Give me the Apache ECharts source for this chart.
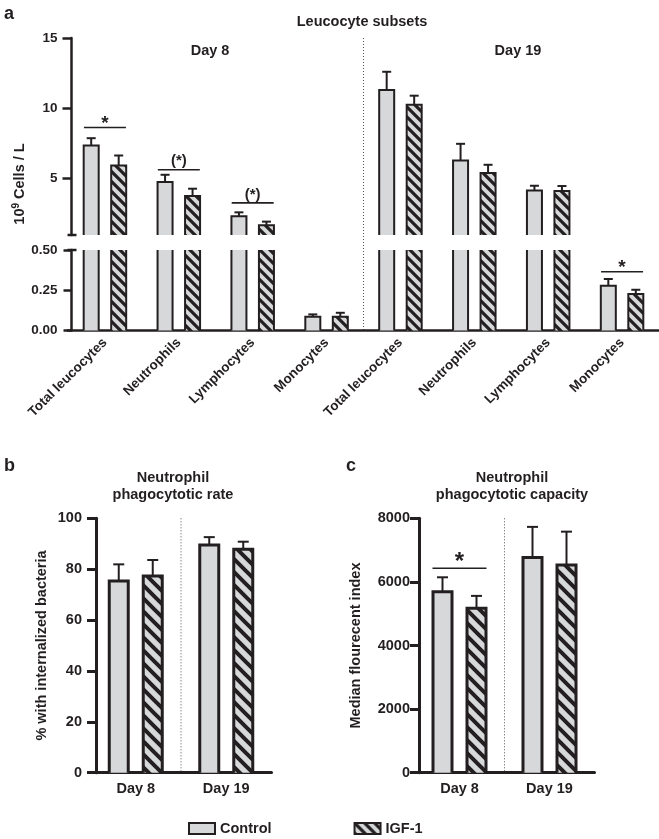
<!DOCTYPE html>
<html><head><meta charset="utf-8">
<script src="https://cdn.jsdelivr.net/npm/echarts@6/dist/echarts.min.js"></script>
<style>html,body{margin:0;padding:0;background:#fff}#c{width:659px;height:839px}</style>
</head><body><div id="c"></div>
<script>
// ---------- data ----------
const subsets = ['Total leucocytes', 'Neutrophils', 'Lymphocytes', 'Monocytes'];
const daysA = ['Day 8', 'Day 19'];
const controlA    = [7.36, 4.77, 2.33, 0.085, 11.31, 6.30, 4.17, 0.278];
const controlASem = [0.52, 0.51, 0.28, 0.015, 1.29, 1.18, 0.33, 0.042];
const igfA        = [5.94, 3.77, 1.69, 0.085, 10.25, 5.40, 4.13, 0.227];
const igfASem     = [0.71, 0.52, 0.26, 0.025, 0.65, 0.59, 0.35, 0.026];
const sigACats    = [0, 1, 2, 7];
const sigAY       = [8.64, 5.64, 3.28, 0.365];
const sigALabels  = ['*', '(*)', '(*)', '*'];
const yTicksAUpper = [5, 10, 15];
const yTicksALower = [0, 0.25, 0.5];

const daysB = ['Day 8', 'Day 19'];
const controlB    = [75.4, 89.5];
const controlBSem = [6.5, 3.1];
const igfB        = [77.3, 87.8];
const igfBSem     = [6.3, 3.0];

const daysC = ['Day 8', 'Day 19'];
const controlC    = [5690, 6770];
const controlCSem = [455, 960];
const igfC        = [5170, 6530];
const igfCSem     = [390, 1050];
const sigCCats    = [0];
const sigCY       = [6430];
const sigCLabels  = ['*'];

// ---------- style ----------
const INK = '#231f20';
const GRAY = '#d7d8da';
const FONT = "'Liberation Sans', Arial, Helvetica, sans-serif";

function stripes(period, lw) {
  const c = document.createElement('canvas');
  c.width = c.height = period;
  const g = c.getContext('2d');
  g.fillStyle = GRAY; g.fillRect(0, 0, period, period);
  g.strokeStyle = INK; g.lineWidth = lw; g.lineCap = 'square';
  for (let k = -1; k <= 1; k++) {
    g.beginPath();
    g.moveTo(k * period - 2, -2);
    g.lineTo(k * period + period + 2, period + 2);
    g.stroke();
  }
  return { image: c, repeat: 'repeat' };
}
const hatchA = stripes(10, 3.2);
const hatchB = stripes(13, 4);

function barItem(offset, outerW, lw, capW, fill, lo, hi) {
  const bw = outerW - lw;
  return function (params, api) {
    const i = api.value(0), v = api.value(1), e = api.value(2);
    if (!(v > lo)) return;
    const over = v > hi;
    const pt = api.coord([i, over ? hi : v]);
    const cx = pt[0] + offset, top = pt[1];
    const base = api.coord([i, lo])[1];
    const x0 = cx - bw / 2, x1 = cx + bw / 2;
    const ch = [{ type: 'rect', shape: { x: x0, y: top, width: bw, height: base - top }, style: { fill: fill } }];
    const st = { stroke: INK, lineWidth: lw, fill: null };
    if (over) {
      ch.push({ type: 'line', shape: { x1: x0, y1: base, x2: x0, y2: top }, style: st });
      ch.push({ type: 'line', shape: { x1: x1, y1: base, x2: x1, y2: top }, style: st });
    } else {
      ch.push({ type: 'polyline', shape: { points: [[x0, base], [x0, top], [x1, top], [x1, base]] }, style: Object.assign({ lineJoin: 'miter' }, st) });
      if (v + e <= hi) {
        const ey = api.coord([i, v + e])[1];
        const es = { stroke: INK, lineWidth: 2 };
        ch.push({ type: 'line', shape: { x1: cx, y1: top, x2: cx, y2: ey }, style: es });
        ch.push({ type: 'line', shape: { x1: cx - capW / 2, y1: ey, x2: cx + capW / 2, y2: ey }, style: es });
      }
    }
    return { type: 'group', children: ch };
  };
}

// half: half length of the bracket line; starFs / starGap: asterisk size and its lift above the line
function sigItem(half, labels, lo, hi, starFs, starGap) {
  return function (params, api) {
    const i = api.value(0), y = api.value(1), li = api.value(2);
    if (y < lo || y > hi) return;
    const p = api.coord([i, y]);
    const lab = labels[li];
    const isStar = lab === '*';
    const fs = isStar ? starFs : 15;
    return { type: 'group', children: [
      { type: 'line', shape: { x1: p[0] - half, y1: p[1], x2: p[0] + half, y2: p[1] }, style: { stroke: INK, lineWidth: 1.6 } },
      { type: 'text', x: p[0], y: isStar ? p[1] - starGap + 0.2 * fs : p[1] - 1,
        style: { text: lab, fill: INK, font: 'bold ' + fs + 'px ' + FONT, align: 'center', verticalAlign: isStar ? 'middle' : 'bottom' } }
    ] };
  };
}

function barSeries(name, x, y, vals, sems, render, fill) {
  return { type: 'custom', name: name, xAxisIndex: x, yAxisIndex: y,
    itemStyle: { color: fill, borderColor: INK, borderWidth: 2 },
    data: vals.map((v, i) => [i, v, sems[i]]), encode: { x: 0, y: 1 }, renderItem: render, z: 3 };
}
function sigSeries(x, y, cats, ys, render) {
  return { type: 'custom', xAxisIndex: x, yAxisIndex: y, silent: true,
    data: cats.map((c, i) => [c, ys[i], i]), encode: { x: 0, y: 1 }, renderItem: render, z: 4 };
}

const catsA = daysA.flatMap(d => subsets.map(s => d + ' ' + s));
const txt = fs => ({ color: INK, fontFamily: FONT, fontWeight: 'bold', fontSize: fs });

function yAx(grid, min, max, offset, tickLen, lw, extra) {
  return Object.assign({
    gridIndex: grid, type: 'value', min: min, max: max, offset: offset,
    splitLine: { show: false },
    axisLine: { show: true, lineStyle: { color: INK, width: lw } },
    axisTick: { show: true, length: tickLen, lineStyle: { color: INK, width: lw } }
  }, extra || {});
}

// layout constants
const GA = { left: 68, width: 591 };
const GA_UP = { top: 38, height: 197 };
const GA_LO = { top: 250, height: 80.5 };
const GB = { left: 90.5, width: 181, top: 518.3, height: 254.4 };
const GC = { left: 414.5, width: 180, top: 518.3, height: 254.4 };

const option = {
  animation: false,
  backgroundColor: '#fff',
  textStyle: { fontFamily: FONT },
  grid: [
    { left: GA.left, width: GA.width, top: GA_UP.top, height: GA_UP.height },
    { left: GA.left, width: GA.width, top: GA_LO.top, height: GA_LO.height },
    { left: GB.left, width: GB.width, top: GB.top, height: GB.height },
    { left: GC.left, width: GC.width, top: GC.top, height: GC.height }
  ],
  xAxis: [
    { gridIndex: 0, type: 'category', data: catsA, show: false },
    { gridIndex: 1, type: 'category', data: catsA,
      axisLine: { lineStyle: { color: INK, width: 2.5 } },
      axisTick: { alignWithLabel: true, length: 6, lineStyle: { color: INK, width: 2.5 } },
      axisLabel: Object.assign(txt(13.5), { rotate: 45, margin: 10, interval: 0, formatter: (v, i) => subsets[i % subsets.length] }) },
    { gridIndex: 2, type: 'category', data: daysB,
      axisLine: { lineStyle: { color: INK, width: 3 } }, axisTick: { show: false },
      axisLabel: Object.assign(txt(14.5), { margin: 9 }) },
    { gridIndex: 3, type: 'category', data: daysC,
      axisLine: { lineStyle: { color: INK, width: 3 } }, axisTick: { show: false },
      axisLabel: Object.assign(txt(14.5), { margin: 9 }) }
  ],
  yAxis: [
    yAx(0, 1, 15, -3.5, 8, 2.5, { axisTick: { show: true, length: 9, customValues: yTicksAUpper, lineStyle: { color: INK, width: 2.5 } },
      axisLabel: Object.assign(txt(13.5), { margin: 14, customValues: yTicksAUpper }) }),
    yAx(1, 0, 0.5, -3.5, 8, 2.5, { interval: 0.25, axisLabel: Object.assign(txt(13.5), { margin: 14, formatter: v => v.toFixed(2) }) }),
    yAx(2, 0, 100, -5.5, 9, 3, { interval: 20, axisLabel: Object.assign(txt(14.5), { margin: 14 }),
      name: '% with internalized bacteria', nameLocation: 'middle', nameGap: 47, nameTextStyle: txt(14.5) }),
    yAx(3, 0, 8000, -4.5, 9, 3, { interval: 2000, axisLabel: Object.assign(txt(14.5), { margin: 9, formatter: v => String(v) }),
      name: 'Median flourecent index', nameLocation: 'middle', nameGap: 56, nameTextStyle: txt(14.5) })
  ],
  legend: {
    data: ['Control', 'IGF-1'], left: 188, top: 821, itemWidth: 26, itemHeight: 11, itemGap: 82,
    icon: 'rect', padding: 0, selectedMode: false,
    itemStyle: { borderColor: INK, borderWidth: 2 },
    textStyle: txt(14.5)
  },
  series: [
    barSeries('Control', 0, 0, controlA, controlASem, barItem(-13.75, 17, 2, 9, GRAY, 1, 15), GRAY),
    barSeries('IGF-1', 0, 0, igfA, igfASem, barItem(13.75, 17, 2, 9, hatchA, 1, 15), hatchA),
    barSeries('Control', 1, 1, controlA, controlASem, barItem(-13.75, 17, 2, 9, GRAY, 0, 0.5), GRAY),
    barSeries('IGF-1', 1, 1, igfA, igfASem, barItem(13.75, 17, 2, 9, hatchA, 0, 0.5), hatchA),
    sigSeries(0, 0, sigACats, sigAY, sigItem(21, sigALabels, 1, 15, 19, 7.7)),
    sigSeries(1, 1, sigACats, sigAY, sigItem(21, sigALabels, 0, 0.5, 19, 7.7)),
    barSeries('Control', 2, 2, controlB, controlBSem, barItem(-17, 22, 3, 11, GRAY, 0, 100), GRAY),
    barSeries('IGF-1', 2, 2, igfB, igfBSem, barItem(17, 22, 3, 11, hatchB, 0, 100), hatchB),
    barSeries('Control', 3, 3, controlC, controlCSem, barItem(-17, 22, 3, 11, GRAY, 0, 8000), GRAY),
    barSeries('IGF-1', 3, 3, igfC, igfCSem, barItem(17, 22, 3, 11, hatchB, 0, 8000), hatchB),
    sigSeries(3, 3, sigCCats, sigCY, sigItem(27, sigCLabels, 0, 8000, 24, 10.3))
  ]
};

const chart = echarts.init(document.getElementById('c'), null, { renderer: 'canvas' });
chart.setOption(option);

// separators and decorations derived from axes
const px = (xi, c) => chart.convertToPixel({ xAxisIndex: xi }, c);
const sepA = (px(1, catsA[3]) + px(1, catsA[4])) / 2;
const sepB = (px(2, daysB[0]) + px(2, daysB[1])) / 2;
const sepC = (px(3, daysC[0]) + px(3, daysC[1])) / 2;
const dotted = { stroke: '#555', lineWidth: 1, lineDash: [1, 2] };
const axAx = GA.left + 3.5;
const title = (x, y, t, fs) => ({ type: 'text', x: x, y: y, silent: true,
  style: { text: t, fill: INK, font: 'bold ' + (fs || 14.5) + 'px ' + FONT, align: 'center', verticalAlign: 'middle' } });

chart.setOption({ graphic: [
  { type: 'line', shape: { x1: sepA, y1: GA_UP.top, x2: sepA, y2: GA_LO.top + GA_LO.height }, style: dotted, silent: true },
  { type: 'line', shape: { x1: sepB, y1: GB.top, x2: sepB, y2: GB.top + GB.height }, style: dotted, silent: true },
  { type: 'line', shape: { x1: sepC, y1: GC.top, x2: sepC, y2: GC.top + GC.height }, style: dotted, silent: true },
  { type: 'line', shape: { x1: axAx - 4, y1: GA_UP.top + GA_UP.height, x2: axAx + 5, y2: GA_UP.top + GA_UP.height }, style: { stroke: INK, lineWidth: 2.5 }, silent: true },
  { type: 'line', shape: { x1: axAx - 4, y1: GA_LO.top, x2: axAx + 5, y2: GA_LO.top }, style: { stroke: INK, lineWidth: 2.5 }, silent: true },
  { type: 'text', x: 4, y: 14, silent: true, style: { text: 'a', fill: INK, font: 'bold 18px ' + FONT, align: 'left', verticalAlign: 'middle' } },
  { type: 'text', x: 4, y: 466, silent: true, style: { text: 'b', fill: INK, font: 'bold 18px ' + FONT, align: 'left', verticalAlign: 'middle' } },
  { type: 'text', x: 346, y: 466, silent: true, style: { text: 'c', fill: INK, font: 'bold 18px ' + FONT, align: 'left', verticalAlign: 'middle' } },
  title(362, 22, 'Leucocyte subsets'),
  title(210, 51, daysA[0]),
  title(518, 51, daysA[1]),
  title(173, 478, 'Neutrophil'),
  title(173, 495, 'phagocytotic rate'),
  title(512, 478, 'Neutrophil'),
  title(512, 495, 'phagocytotic capacity'),
  { type: 'text', x: 20, y: 184, rotation: Math.PI / 2, silent: true,
    style: { text: '{a|10}{s|9}{a| Cells / L}', align: 'center', verticalAlign: 'middle',
      rich: { a: { fill: INK, font: 'bold 14.5px ' + FONT, lineHeight: 17 },
              s: { fill: INK, font: 'bold 10px ' + FONT, lineHeight: 17, verticalAlign: 'top', padding: [0, 0, 6, 0] } } } }
] });
</script>
</body></html>
